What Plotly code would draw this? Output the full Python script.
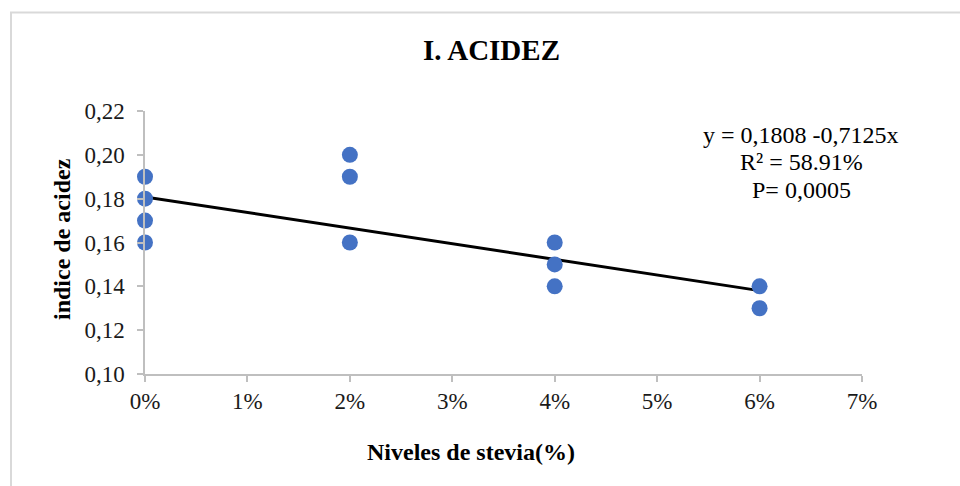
import plotly.graph_objects as go

# Acidity index measured at each stevia level (fraction of formulation)
stevia_level = [0.00, 0.00, 0.00, 0.00,
                0.02, 0.02, 0.02,
                0.04, 0.04, 0.04,
                0.06, 0.06]
acidez = [0.19, 0.18, 0.17, 0.16,
          0.20, 0.19, 0.16,
          0.16, 0.15, 0.14,
          0.14, 0.13]

# Fitted regression coefficients
intercept = 0.1808
slope = -0.7125
fit_x = [0.00, 0.06]
fit_y = [intercept + slope * v for v in fit_x]

x_ticks = [0.00, 0.01, 0.02, 0.03, 0.04, 0.05, 0.06, 0.07]
x_labels = ["0%", "1%", "2%", "3%", "4%", "5%", "6%", "7%"]
y_ticks = [0.10, 0.12, 0.14, 0.16, 0.18, 0.20, 0.22]
y_labels = ["0,10", "0,12", "0,14", "0,16", "0,18", "0,20", "0,22"]

W, H = 960, 486
L, R, T, B = 145, 862, 111, 374
pw, ph = R - L, B - T


def px_x(p):
    return (p - L) / pw


def px_y(p):
    return (B - p) / ph


FONT = "Liberation Serif, Times New Roman, serif"

fig = go.Figure()
fig.add_trace(go.Scatter(
    x=fit_x, y=fit_y, mode="lines",
    line=dict(color="black", width=3),
    hoverinfo="skip", showlegend=False,
))
fig.add_trace(go.Scatter(
    x=stevia_level, y=acidez, mode="markers",
    marker=dict(color="#4472C4", size=16, line=dict(width=0)),
    cliponaxis=False, showlegend=False,
))

axis_common = dict(
    showgrid=False, zeroline=False, showline=True,
    linecolor="#BFBFBF", linewidth=1.5,
    ticks="outside", tickcolor="#BFBFBF", ticklen=6, tickwidth=1.5,
    tickfont=dict(family=FONT, size=23, color="#1a1a1a"),
)

fig.update_xaxes(
    range=[0, 0.07], tickvals=x_ticks, ticktext=x_labels, **axis_common,
)
fig.update_yaxes(
    range=[0.10, 0.22], tickvals=y_ticks, ticktext=y_labels,
    ticklabelstandoff=8, **axis_common,
)

annotations = [
    dict(text="<b>I. ACIDEZ</b>", x=px_x(491), y=px_y(50),
         font=dict(family=FONT, size=29, color="black")),
    dict(text="<b>Niveles de stevia(%)</b>", x=px_x(471), y=px_y(452),
         font=dict(family=FONT, size=24, color="black")),
    dict(text="<b>indice de acidez</b>", x=px_x(62), y=px_y(239),
         textangle=-90, font=dict(family=FONT, size=24, color="black")),
    dict(text="y = 0,1808 -0,7125x", x=px_x(801), y=px_y(135),
         font=dict(family=FONT, size=24, color="black")),
    dict(text="R² = 58.91%", x=px_x(801), y=px_y(162),
         font=dict(family=FONT, size=24, color="black")),
    dict(text="P= 0,0005", x=px_x(801), y=px_y(190),
         font=dict(family=FONT, size=24, color="black")),
]
for a in annotations:
    a.update(xref="paper", yref="paper", showarrow=False,
             xanchor="center", yanchor="middle")

fig.update_layout(
    width=W, height=H,
    margin=dict(l=L, r=W - R, t=T, b=H - B),
    paper_bgcolor="white", plot_bgcolor="white",
    font=dict(family=FONT, color="#1a1a1a"),
    annotations=annotations,
    shapes=[dict(
        type="rect", xref="paper", yref="paper",
        x0=px_x(11), x1=px_x(975), y0=px_y(500), y1=px_y(12.5),
        line=dict(color="#D9D9D9", width=2), fillcolor="rgba(0,0,0,0)",
        layer="below",
    )],
)

fig.write_html("out.html")
